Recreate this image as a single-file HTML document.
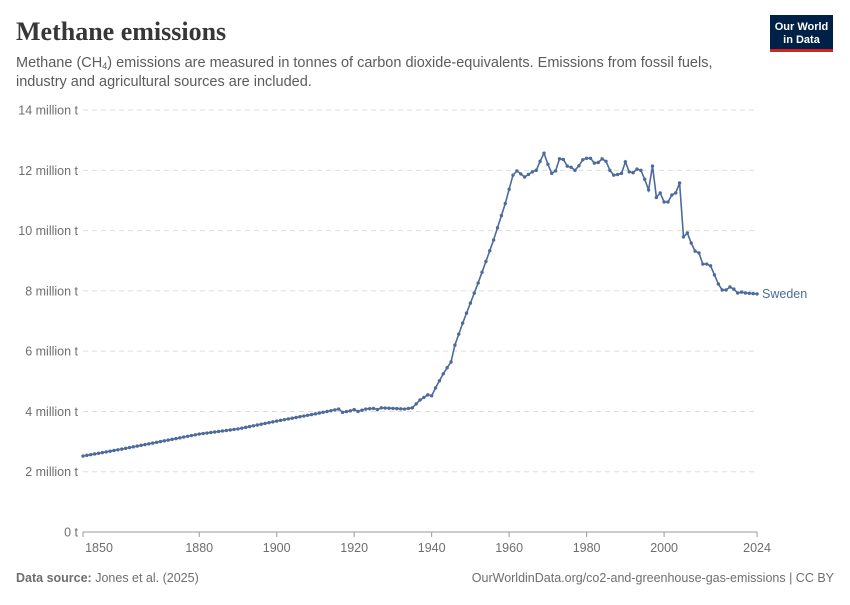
<!DOCTYPE html>
<html><head><meta charset="utf-8">
<style>
body{margin:0;background:#fff;width:850px;height:600px;overflow:hidden;font-family:"Liberation Sans",sans-serif;}
</style></head><body>
<svg id="c" width="850" height="600" xmlns="http://www.w3.org/2000/svg" font-family="Liberation Sans, sans-serif">
<text x="16" y="40" font-family="Liberation Serif, serif" font-weight="bold" font-size="26" fill="#373737">Methane emissions</text>
<text x="16" y="67" font-size="14.5" fill="#5b5b5b">Methane (CH<tspan font-size="9" dy="2">4</tspan><tspan dy="-2">) emissions are measured in tonnes of carbon dioxide-equivalents. Emissions from fossil fuels,</tspan></text>
<text x="16" y="86" font-size="14.5" fill="#5b5b5b">industry and agricultural sources are included.</text>
<rect x="770" y="15" width="63" height="37" fill="#002147"/>
<rect x="770" y="49" width="63" height="3" fill="#ce261e"/>
<text x="801.5" y="30" font-size="11" font-weight="bold" fill="#fff" text-anchor="middle">Our World</text>
<text x="801.5" y="43" font-size="11" font-weight="bold" fill="#fff" text-anchor="middle">in Data</text>
<g id="grid"></g>
<line x1="83" y1="532" x2="757" y2="532" stroke="#999" stroke-width="1"/>
<g id="xt"></g>
<polyline id="ln" fill="none" stroke="#4c6a9c" stroke-width="1.6"/>
<g id="dots" fill="#4c6a9c"></g>
<text x="762" y="298" font-size="12.5" fill="#4c6a9c">Sweden</text>
<text x="16" y="582" font-size="12.5" fill="#6e6e6e"><tspan font-weight="bold">Data source:</tspan> Jones et al. (2025)</text>
<text x="834" y="582" font-size="12.5" fill="#6e6e6e" text-anchor="end">OurWorldinData.org/co2-and-greenhouse-gas-emissions | CC BY</text>
</svg>
<script>
var NS="http://www.w3.org/2000/svg";
function el(p,t,a,txt){var e=document.createElementNS(NS,t);for(var k in a)e.setAttribute(k,a[k]);if(txt!=null)e.textContent=txt;p.appendChild(e);return e;}
function X(y){return 83+(y-1850)*3.874;}
function Y(v){return 532-v*30.14;}
var g=document.getElementById('grid');
for(var i=0;i<=7;i++){var v=i*2,y=Y(v);
 if(i>0)el(g,'line',{x1:83,x2:757,y1:y,y2:y,stroke:'#ddd','stroke-dasharray':'5,4'});
 el(g,'text',{x:78,y:y+4.5,'font-size':12.5,fill:'#6e6e6e','text-anchor':'end'},i==0?'0 t':v+' million t');}
var xt=document.getElementById('xt');
[[1850,99],[1880,null],[1900,null],[1920,null],[1940,null],[1960,null],[1980,null],[2000,null],[2024,null]].forEach(function(a){
 var x=X(a[0]);el(xt,'line',{x1:x,x2:x,y1:532,y2:537,stroke:'#999'});
 el(xt,'text',{x:a[1]||x,y:552,'font-size':12.5,fill:'#6e6e6e','text-anchor':'middle'},a[0]);});
var k=[[1850,2.52],[1860,2.75],[1870,3.0],[1880,3.25],[1890,3.42],[1900,3.68],[1910,3.92],[1915,4.05],[1916,4.08],[1917,3.97],[1919,4.02],[1920,4.06],[1921,4.0],[1923,4.08],[1925,4.1],[1926,4.06],[1927,4.12],[1930,4.1],[1933,4.08],[1935,4.12],[1937,4.38],[1939,4.55],[1940,4.52],[1941,4.78],[1943,5.25],[1944,5.45],[1945,5.64],[1946,6.2],[1948,6.93],[1952,8.26],[1956,9.69],[1959,10.9],[1961,11.84],[1962,11.98],[1964,11.78],[1966,11.95],[1967,12.0],[1968,12.3],[1969,12.57],[1970,12.2],[1971,11.9],[1972,11.98],[1973,12.38],[1974,12.36],[1975,12.14],[1976,12.1],[1977,12.0],[1978,12.15],[1979,12.35],[1980,12.4],[1981,12.4],[1982,12.24],[1983,12.26],[1984,12.38],[1985,12.3],[1986,12.0],[1987,11.84],[1988,11.86],[1989,11.9],[1990,12.28],[1991,11.95],[1992,11.92],[1993,12.04],[1994,12.0],[1995,11.7],[1996,11.35],[1997,12.14],[1998,11.1],[1999,11.25],[2000,10.95],[2001,10.95],[2002,11.18],[2003,11.25],[2004,11.58],[2005,9.79],[2006,9.92],[2007,9.59],[2008,9.32],[2009,9.26],[2010,8.89],[2011,8.89],[2012,8.83],[2013,8.53],[2014,8.23],[2015,8.03],[2016,8.03],[2017,8.13],[2018,8.06],[2019,7.93],[2020,7.96],[2021,7.93],[2022,7.92],[2023,7.91],[2024,7.9]];
var pts=[],d=document.getElementById('dots');
for(var yr=1850;yr<=2024;yr++){var j=0;while(j<k.length-1&&k[j+1][0]<yr)j++;
 var a=k[j],b=k[Math.min(j+1,k.length-1)],v;
 if(yr<=a[0])v=a[1];else v=a[1]+(b[1]-a[1])*(yr-a[0])/(b[0]-a[0]);
 var x=X(yr),y=Y(v);pts.push(x.toFixed(1)+','+y.toFixed(1));el(d,'circle',{cx:x,cy:y,r:1.7});}
document.getElementById('ln').setAttribute('points',pts.join(' '));
</script>
</body></html>
